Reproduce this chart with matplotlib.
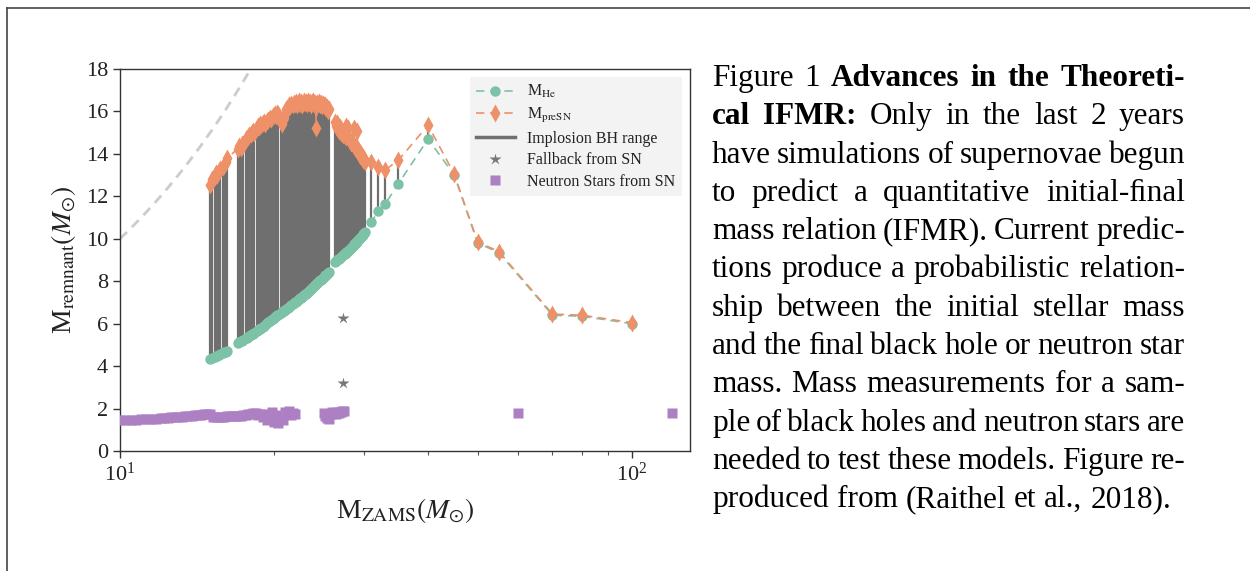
import numpy as np
import matplotlib
matplotlib.use('Agg')
from matplotlib import pyplot as plt
from matplotlib.lines import Line2D

plt.rcParams['font.family'] = ['Liberation Serif', 'DejaVu Serif']
plt.rcParams['mathtext.fontset'] = 'stix'

# implosion models: ZAMS mass, helium core mass, pre-SN mass
m_zams = [15.0, 15.1, 15.3, 15.4, 15.5, 15.6, 15.7, 15.9, 16.0, 16.1, 16.2,
          17.0, 17.1, 17.2, 17.3, 17.4, 17.6, 17.7, 17.8, 17.9,
          18.0, 18.1, 18.2, 18.3, 18.5, 18.6, 18.7, 18.8, 18.9,
          19.0, 19.1, 19.2, 19.4, 19.5, 19.6, 19.7, 19.9,
          20.0, 20.1, 20.2, 20.3, 20.4, 20.6, 20.7, 20.8, 20.9,
          21.0, 21.1, 21.3, 21.4, 21.5, 21.6, 21.8, 21.9,
          22.0, 22.1, 22.2, 22.3, 22.4, 22.5, 22.6, 22.7, 22.8, 22.9,
          23.0, 23.1, 23.2, 23.3, 23.4, 23.5, 23.6, 23.7, 23.8, 23.9,
          24.0, 24.1, 24.2, 24.3, 24.4, 24.5, 24.6, 24.7, 24.8, 24.9,
          25.0, 25.1, 25.2, 25.3, 25.4, 25.5, 25.6,
          26.3, 26.4, 26.5, 26.6, 26.7, 26.8, 26.9, 27.0,
          27.2, 27.3, 27.4, 27.5, 27.6, 27.7, 27.8, 27.9,
          28.0, 28.1, 28.2, 28.3, 28.4, 28.5, 28.6, 28.7, 28.8, 28.9,
          29.0, 29.1, 29.2, 29.3, 29.4, 29.5, 29.6, 29.7, 29.8, 29.9,
          30.0, 30.1,
          31, 32, 33, 35, 40, 45, 50, 55, 70, 80, 100]
m_he = [4.35, 4.38, 4.44, 4.47, 4.50, 4.53, 4.56, 4.62, 4.65, 4.68, 4.72,
        5.10, 5.13, 5.17, 5.20, 5.24, 5.31, 5.34, 5.38, 5.41,
        5.45, 5.49, 5.53, 5.57, 5.65, 5.69, 5.73, 5.77, 5.81,
        5.85, 5.89, 5.94, 6.02, 6.07, 6.11, 6.15, 6.24,
        6.28, 6.32, 6.35, 6.39, 6.43, 6.50, 6.54, 6.58, 6.61,
        6.65, 6.69, 6.76, 6.79, 6.83, 6.86, 6.93, 6.97,
        7.00, 7.04, 7.08, 7.11, 7.15, 7.19, 7.23, 7.27, 7.30, 7.34,
        7.38, 7.42, 7.46, 7.50, 7.55, 7.59, 7.63, 7.67, 7.71, 7.76,
        7.80, 7.84, 7.88, 7.92, 7.96, 8.00, 8.04, 8.08, 8.12, 8.16,
        8.20, 8.24, 8.27, 8.31, 8.35, 8.38, 8.42,
        8.92, 8.95, 8.98, 9.01, 9.04, 9.07, 9.10, 9.13,
        9.19, 9.22, 9.26, 9.29, 9.32, 9.36, 9.39, 9.43,
        9.46, 9.50, 9.54, 9.58, 9.62, 9.66, 9.70, 9.74, 9.78, 9.82,
        9.86, 9.90, 9.94, 9.98, 10.02, 10.06, 10.10, 10.15, 10.19, 10.24,
        10.28, 10.33,
        10.8, 11.3, 11.65, 12.6, 14.7, 13.0, 9.8, 9.35, 6.4, 6.35, 6.0]
m_presn = [12.55, 12.8, 12.9, 13.1, 13.0, 13.2, 13.3, 13.4, 13.5, 13.6, 13.8,
           14.25, 14.35, 14.3, 14.45, 14.4, 14.7, 14.75, 14.8, 14.9,
           14.95, 15.0, 15.1, 15.0, 15.2, 15.3, 15.25, 15.4, 15.35,
           15.45, 15.5, 15.4, 15.55, 15.6, 15.7, 15.65, 15.8,
           15.85, 15.9, 15.8, 15.95, 15.9, 15.5, 15.4, 15.6, 15.7,
           15.9, 16.1, 16.2, 16.3, 16.25, 16.35, 16.3, 16.4,
           16.35, 16.45, 16.3, 16.4, 16.5, 16.35, 16.45, 16.3, 16.4, 16.5,
           16.4, 16.45, 16.35, 16.5, 16.4, 16.45, 16.3, 16.45, 16.5, 16.35,
           16.4, 16.3, 15.2, 16.4, 16.35, 16.45, 16.3, 16.4, 16.25, 16.35,
           16.3, 16.2, 16.3, 16.15, 16.2, 16.0, 16.1,
           15.5, 15.3, 15.45, 15.2, 15.3, 15.1, 15.25, 15.0,
           15.1, 14.9, 15.0, 14.85, 15.3, 14.8, 14.9, 15.2,
           14.75, 14.6, 14.65, 14.5, 14.55, 14.45, 15.2, 14.4, 14.3, 14.35,
           15.1, 14.3, 14.1, 14.15, 14.0, 13.9, 14.0, 13.8, 13.85, 13.7,
           13.75, 13.6,
           13.6, 13.4, 13.25, 13.7, 15.35, 13.05, 9.85, 9.4, 6.45, 6.4, 6.05]

# fallback black holes
fb_zams = [27.3, 27.3]
fb_mass = [6.25, 3.2]

# neutron stars
ns_zams = [10.0, 10.25, 10.5, 10.75, 11.0, 11.25, 11.5, 11.75, 12.0, 12.2,
           12.4, 12.6, 12.8, 13.0, 13.2, 13.4, 13.6, 13.8, 14.0, 14.2,
           14.4, 14.6, 14.8, 15.0, 15.2, 15.4, 15.6, 15.8, 16.0, 16.2,
           16.4, 16.6, 16.8, 17.0, 17.2, 17.4, 17.6, 17.8, 18.0, 18.2,
           18.4, 18.6, 18.8, 19.0, 19.2, 19.4, 19.6, 19.8, 20.0, 20.2,
           20.4, 20.6, 20.8, 21.0, 21.2, 21.4, 21.6, 21.8, 22.0,
           25.0, 25.2, 25.4, 25.6, 25.8, 26.0, 26.2, 26.4, 26.6, 26.8,
           27.0, 27.2, 27.4, 60, 120]
ns_mass = [1.45, 1.46, 1.47, 1.48, 1.50, 1.51, 1.52, 1.53, 1.55, 1.54,
           1.57, 1.58, 1.60, 1.61, 1.62, 1.64, 1.65, 1.66, 1.68, 1.69,
           1.70, 1.72, 1.74, 1.76, 1.58, 1.60, 1.61, 1.62, 1.62, 1.63,
           1.64, 1.65, 1.65, 1.66, 1.67, 1.68, 1.70, 1.72, 1.74, 1.78,
           1.80, 1.70, 1.72, 1.60, 1.75, 1.45, 1.55, 1.85, 1.35, 1.40,
           1.32, 1.70, 1.45, 1.85, 1.75, 1.90, 1.70, 1.80, 1.75,
           1.80, 1.65, 1.55, 1.50, 1.75, 1.85, 1.80, 1.75, 1.85, 1.80,
           1.85, 1.90, 1.88, 1.80, 1.78]

caption = [
    "Figure 1 Advances in the Theoreti-",
    "cal IFMR: Only in the last 2 years",
    "have simulations of supernovae begun",
    "to predict a quantitative initial-\ufb01nal",
    "mass relation (IFMR). Current predic-",
    "tions produce a probabilistic relation-",
    "ship between the initial stellar mass",
    "and the \ufb01nal black hole or neutron star",
    "mass.  Mass measurements for a sam-",
    "ple of black holes and neutron stars are",
    "needed to test these models. Figure re-",
    "produced from (Raithel et al., 2018).",
]
bold_words = {0: [2, 3, 4, 5], 1: [0, 1]}

green = '#7cc2a6'
orange = '#ee9068'
purple = '#ad80c4'

fig = plt.figure(figsize=(12.5, 5.71), dpi=100)
ax = fig.add_axes([120 / 1250, 1 - 451 / 571, 570 / 1250, 382 / 571])

ref = np.linspace(10, 18, 40)
ax.plot(ref, ref, color='#cccccc', lw=2.0, dashes=(3.5, 2.5), zorder=1)

ax.vlines(m_zams, m_he, m_presn, colors='#6f6f6f', lw=1.6, zorder=2)
ax.plot(m_zams, m_he, color=green, marker='o', ms=7.5, mec='none', lw=1.2,
        dashes=(5, 3.5), zorder=3)
ax.plot(m_zams, m_presn, color=orange, marker='d', ms=9, mec='none', lw=1.2,
        dashes=(5, 3.5), zorder=3)
ax.plot(fb_zams, fb_mass, ls='none', marker='*', color='#777777', ms=9, mec='none', zorder=3)
ax.plot(ns_zams, ns_mass, ls='none', marker='s', color=purple, ms=6.5, mec='none', zorder=3)

ax.set_xscale('log')
ax.set_xlim(10, 130)
ax.set_ylim(0, 18)
ax.set_yticks(range(0, 19, 2))
for s in ax.spines.values():
    s.set_color('#333333')
    s.set_linewidth(1.0)
ax.tick_params(which='major', direction='out', length=5, width=1, labelsize=16,
               colors='#333333', labelcolor='#222222')
ax.tick_params(which='minor', direction='out', length=3, width=0.8, colors='#555555')
ax.tick_params(axis='y', which='minor', left=False)
ax.set_xlabel(r'M$_{\rm ZAMS}(M_{\odot})$', fontsize=20, color='#222222', labelpad=7)
ax.set_ylabel(r'M$_{\rm remnant}(M_{\odot})$', fontsize=20, color='#222222', labelpad=6)

handles = [
    Line2D([], [], color=green, marker='o', ms=7.5, mec='none', lw=1.2, dashes=(5, 3.5)),
    Line2D([], [], color=orange, marker='d', ms=9, mec='none', lw=1.2, dashes=(5, 3.5)),
    Line2D([], [], color='#6f6f6f', lw=2.5),
    Line2D([], [], ls='none', marker='*', color='#777777', ms=9, mec='none'),
    Line2D([], [], ls='none', marker='s', color=purple, ms=6.5, mec='none'),
]
labels = [r'M$_{\rm He}$', r'M$_{\rm preSN}$', 'Implosion BH range',
          'Fallback from SN', 'Neutron Stars from SN']
leg = ax.legend(handles, labels, loc='upper right', fontsize=11.5, numpoints=1,
                frameon=True, fancybox=False, facecolor='#f3f3f3', edgecolor='none',
                framealpha=1, handlelength=2.4, labelspacing=0.35, borderaxespad=0.5)
for t in leg.get_texts():
    t.set_color('#222222')

# figure frame
fig.add_artist(Line2D([7 / 1250, 1], [1 - 8 / 571, 1 - 8 / 571], transform=fig.transFigure,
                      color='#444444', lw=1.2))
fig.add_artist(Line2D([7 / 1250, 7 / 1250], [0, 1 - 8 / 571], transform=fig.transFigure,
                      color='#444444', lw=1.2))

# justified caption
renderer = fig.canvas.get_renderer()
x_left, x_right = 712, 1185
base0, step = 86, 38.3
fs = 22.5
probe = fig.text(0, 0, 'a b', fontsize=fs)
probe2 = fig.text(0, 0, 'ab', fontsize=fs)
space_w = probe.get_window_extent(renderer).width - probe2.get_window_extent(renderer).width
probe.remove()
probe2.remove()
for i, line in enumerate(caption):
    words = line.split()
    objs = []
    for j, w in enumerate(words):
        wt = 'bold' if j in bold_words.get(i, []) else 'normal'
        objs.append(fig.text(0, 1 - (base0 + i * step) / 571, w, fontsize=fs,
                             fontweight=wt, va='baseline', ha='left', color='black'))
    widths = [o.get_window_extent(renderer).width for o in objs]
    if i == len(caption) - 1:
        gap = space_w
    else:
        gap = (x_right - x_left - sum(widths)) / (len(words) - 1)
    x = x_left
    for o, w in zip(objs, widths):
        o.set_x(x / 1250)
        x += w + gap

fig.savefig('out.png', dpi=100)
